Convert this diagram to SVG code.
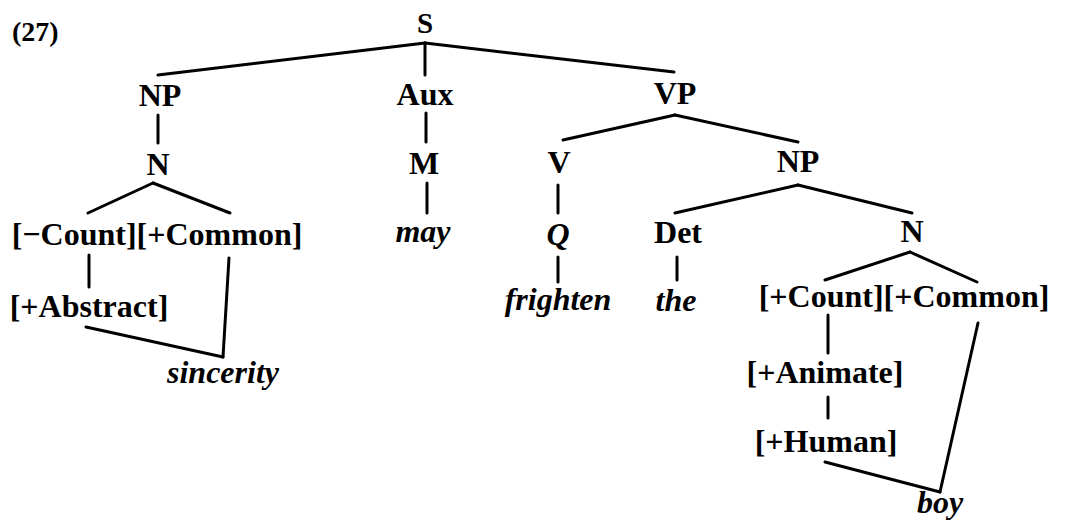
<svg xmlns="http://www.w3.org/2000/svg" width="1065" height="524" viewBox="0 0 1065 524">
<style>
text{font-family:"Liberation Serif","Times New Roman",serif;font-weight:bold;font-size:32px;fill:#000;text-anchor:middle}
.it{font-style:italic}
.num{font-size:28px;text-anchor:start}
.s{font-size:29px}
#connectors line{stroke:#000;stroke-width:3;stroke-linecap:round;fill:none}
</style>
<rect width="1065" height="524" fill="#fff"/>
<g id="connectors">
<line x1="425" y1="43" x2="158" y2="75"/>
<line x1="425" y1="43" x2="425" y2="75"/>
<line x1="425" y1="43" x2="674" y2="72"/>
<line x1="158" y1="115" x2="158" y2="143"/>
<line x1="153" y1="183" x2="88" y2="213"/>
<line x1="153" y1="183" x2="230" y2="213"/>
<line x1="89" y1="255" x2="89" y2="287"/>
<line x1="229" y1="258" x2="223" y2="357"/>
<line x1="86" y1="327" x2="223" y2="357"/>
<line x1="426" y1="113" x2="426" y2="142"/>
<line x1="427" y1="183" x2="427" y2="213"/>
<line x1="675" y1="115" x2="563" y2="140"/>
<line x1="675" y1="115" x2="798" y2="142"/>
<line x1="558" y1="185" x2="558" y2="213"/>
<line x1="558" y1="257" x2="558" y2="282"/>
<line x1="798" y1="185" x2="675" y2="213"/>
<line x1="798" y1="185" x2="912" y2="213"/>
<line x1="677" y1="257" x2="677" y2="280"/>
<line x1="910" y1="252" x2="825" y2="280"/>
<line x1="910" y1="252" x2="977" y2="282"/>
<line x1="828" y1="315" x2="828" y2="353"/>
<line x1="828" y1="397" x2="828" y2="418"/>
<line x1="825" y1="462" x2="940" y2="492"/>
<line x1="978" y1="323" x2="940" y2="492"/>
</g>
<g id="label27"><text class="num" x="12" y="41">(27)</text></g>
<g id="S"><text class="s" x="425" y="33">S</text></g>
<g id="NP1"><text x="160" y="106">NP</text></g>
<g id="Aux"><text x="425" y="105">Aux</text></g>
<g id="VP"><text x="675" y="104">VP</text></g>
<g id="N1"><text x="158" y="175">N</text></g>
<g id="M"><text x="424" y="174">M</text></g>
<g id="V"><text x="559" y="173">V</text></g>
<g id="NP2"><text x="798" y="172">NP</text></g>
<g id="features1"><text x="157" y="245">[−Count][+Common]</text></g>
<g id="may"><text class="it" x="423" y="242">may</text></g>
<g id="Q"><text class="it" x="558" y="245">Q</text></g>
<g id="Det"><text x="678" y="243">Det</text></g>
<g id="N2"><text x="912" y="242">N</text></g>
<g id="abstract"><text x="89" y="317">[+Abstract]</text></g>
<g id="frighten"><text class="it" x="558" y="310">frighten</text></g>
<g id="the"><text class="it" x="676" y="311">the</text></g>
<g id="features2"><text x="904" y="307">[+Count][+Common]</text></g>
<g id="sincerity"><text class="it" x="223" y="383">sincerity</text></g>
<g id="animate"><text x="825" y="383">[+Animate]</text></g>
<g id="human"><text x="826" y="452">[+Human]</text></g>
<g id="boy"><text class="it" x="940" y="513">boy</text></g>
</svg>
